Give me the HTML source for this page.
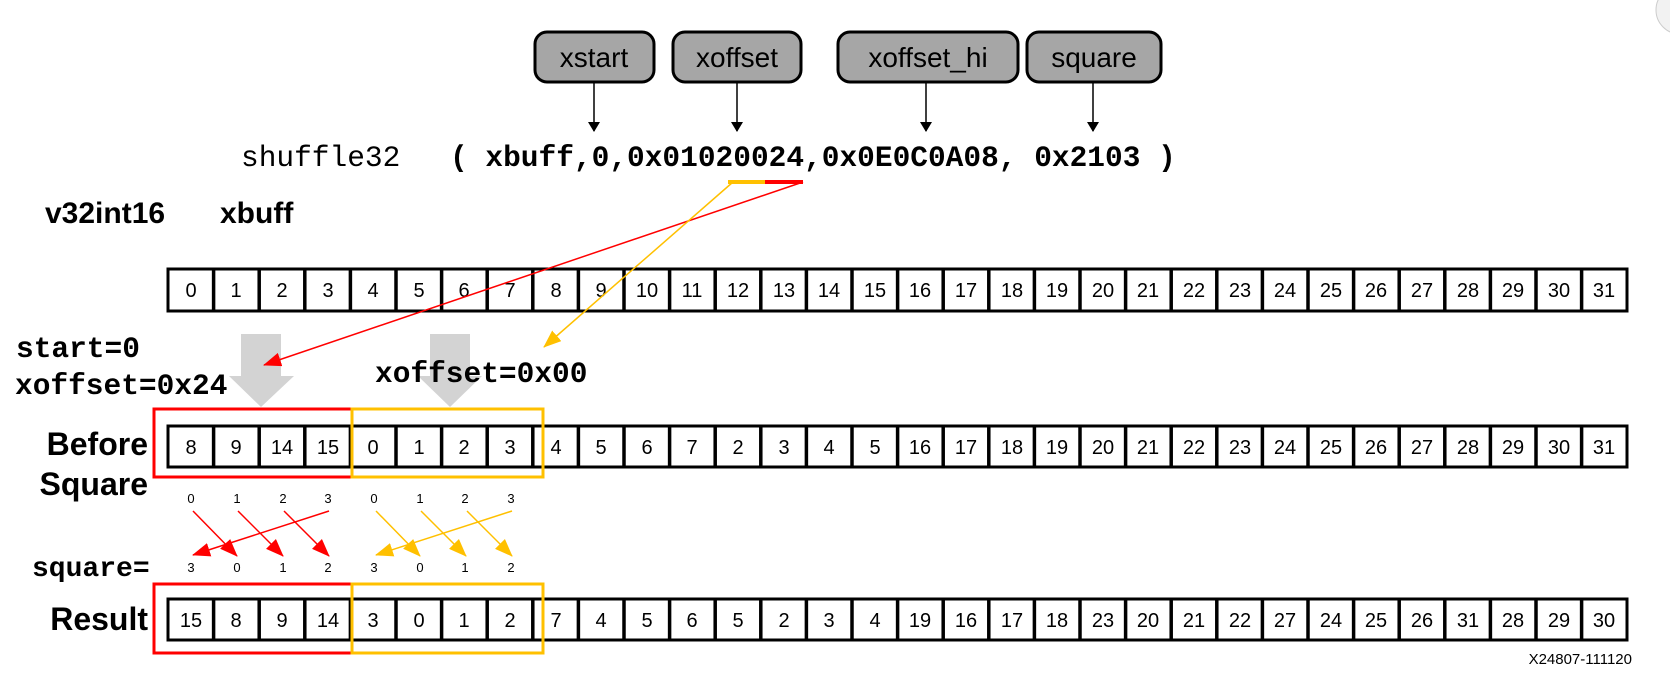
<!DOCTYPE html>
<html><head><meta charset="utf-8"><style>
html,body{margin:0;padding:0;background:#fff;width:1670px;height:679px;overflow:hidden}
svg{display:block}
.c{font-family:"Liberation Sans",sans-serif;font-size:20px;text-anchor:middle}
.s{font-family:"Liberation Sans",sans-serif;font-size:13px;text-anchor:middle}
.m{font-family:"Liberation Mono",monospace;font-size:29.5px;font-weight:bold}
.b{font-family:"Liberation Sans",sans-serif;font-weight:bold}
</style></head><body>
<svg width="1670" height="679" viewBox="0 0 1670 679" xmlns="http://www.w3.org/2000/svg">
<defs>
<marker id="ak" markerWidth="10" markerHeight="12" refX="9" refY="6" orient="auto" markerUnits="userSpaceOnUse"><path d="M0,0 L10,6 L0,12 z" fill="#000"/></marker>
<marker id="ar" markerWidth="18" markerHeight="14" refX="17" refY="7" orient="auto" markerUnits="userSpaceOnUse"><path d="M0,0 L18,7 L0,14 z" fill="#f00"/></marker>
<marker id="ay" markerWidth="18" markerHeight="14" refX="17" refY="7" orient="auto" markerUnits="userSpaceOnUse"><path d="M0,0 L18,7 L0,14 z" fill="#ffc000"/></marker>
</defs>

<circle cx="1680" cy="10" r="24" fill="#f2f2f2" stroke="#ccc"/>

<g font-family="Liberation Sans,sans-serif" font-size="28" text-anchor="middle" fill="#000">
<rect x="535" y="32" width="119" height="50" rx="12" fill="#a6a6a6" stroke="#000" stroke-width="3"/>
<text x="594" y="67">xstart</text>
<rect x="673" y="32" width="128" height="50" rx="12" fill="#a6a6a6" stroke="#000" stroke-width="3"/>
<text x="737" y="67">xoffset</text>
<rect x="838" y="32" width="180" height="50" rx="12" fill="#a6a6a6" stroke="#000" stroke-width="3"/>
<text x="928" y="67">xoffset_hi</text>
<rect x="1027" y="32" width="134" height="50" rx="12" fill="#a6a6a6" stroke="#000" stroke-width="3"/>
<text x="1094" y="67">square</text>
</g>
<g stroke="#000" stroke-width="1.5">
<line x1="594" y1="83" x2="594" y2="131" marker-end="url(#ak)"/>
<line x1="737" y1="83" x2="737" y2="131" marker-end="url(#ak)"/>
<line x1="926" y1="83" x2="926" y2="131" marker-end="url(#ak)"/>
<line x1="1093" y1="83" x2="1093" y2="131" marker-end="url(#ak)"/>
</g>

<text x="241" y="166" class="m" style="font-weight:normal">shuffle32</text>
<text x="450" y="166" class="m">( xbuff,0,0x01020024,0x0E0C0A08, 0x2103 )</text>

<text x="45" y="223" class="b" font-size="30">v32int16</text>
<text x="220" y="223" class="b" font-size="30">xbuff</text>

<!-- gray arrows (under text) -->
<path d="M241,334 H281 V376 H294 L261,407 L229,376 H241 Z" fill="#d3d3d3"/>
<path d="M430,334 H470 V376 H482 L450,407 L418,376 H430 Z" fill="#d3d3d3"/>

<text x="16" y="357" class="m">start=0</text>
<text x="15" y="394" class="m">xoffset=0x24</text>
<text x="375" y="382" class="m">xoffset=0x00</text>

<text x="148" y="455" class="b" font-size="32" text-anchor="end">Before</text>
<text x="148" y="495" class="b" font-size="32" text-anchor="end">Square</text>
<text x="148" y="630" class="b" font-size="32" text-anchor="end">Result</text>
<text x="32" y="576" class="m" style="font-size:28px">square=</text>

<g>
<text x="191" y="503" class="s">0</text><text x="237" y="503" class="s">1</text><text x="283" y="503" class="s">2</text><text x="328" y="503" class="s">3</text>
<text x="374" y="503" class="s">0</text><text x="420" y="503" class="s">1</text><text x="465" y="503" class="s">2</text><text x="511" y="503" class="s">3</text>
<text x="191" y="572" class="s">3</text><text x="237" y="572" class="s">0</text><text x="283" y="572" class="s">1</text><text x="328" y="572" class="s">2</text>
<text x="374" y="572" class="s">3</text><text x="420" y="572" class="s">0</text><text x="465" y="572" class="s">1</text><text x="511" y="572" class="s">2</text>
</g>
<g stroke="#f00" stroke-width="1.5">
<line x1="193" y1="511" x2="237" y2="556" marker-end="url(#ar)"/>
<line x1="238" y1="511" x2="283" y2="556" marker-end="url(#ar)"/>
<line x1="284" y1="511" x2="329" y2="556" marker-end="url(#ar)"/>
<line x1="329" y1="511" x2="193" y2="555" marker-end="url(#ar)"/>
</g>
<g stroke="#ffc000" stroke-width="1.5">
<line x1="376" y1="511" x2="420" y2="556" marker-end="url(#ay)"/>
<line x1="421" y1="511" x2="466" y2="556" marker-end="url(#ay)"/>
<line x1="467" y1="511" x2="512" y2="556" marker-end="url(#ay)"/>
<line x1="512" y1="511" x2="376" y2="555" marker-end="url(#ay)"/>
</g>

<text x="1632" y="664" font-family="Liberation Sans,sans-serif" font-size="15" text-anchor="end">X24807-111120</text>

<g fill="#fff" stroke="#000" stroke-width="3">
<rect x="168" y="269" width="1459" height="42"/>
<rect x="168" y="426" width="1459" height="41"/>
<rect x="168" y="599" width="1459" height="41"/>
</g>
<g stroke="#000" stroke-width="3.5">
<path d="M213.6,269V311M259.2,269V311M304.8,269V311M350.4,269V311M396,269V311M441.6,269V311M487.2,269V311M532.8,269V311M578.4,269V311M624,269V311M669.6,269V311M715.2,269V311M760.8,269V311M806.4,269V311M852,269V311M897.6,269V311M943.2,269V311M988.8,269V311M1034.4,269V311M1080,269V311M1125.6,269V311M1171.2,269V311M1216.8,269V311M1262.4,269V311M1308,269V311M1353.6,269V311M1399.2,269V311M1444.8,269V311M1490.4,269V311M1536,269V311M1581.6,269V311"/>
<path d="M213.6,426V467M259.2,426V467M304.8,426V467M350.4,426V467M396,426V467M441.6,426V467M487.2,426V467M532.8,426V467M578.4,426V467M624,426V467M669.6,426V467M715.2,426V467M760.8,426V467M806.4,426V467M852,426V467M897.6,426V467M943.2,426V467M988.8,426V467M1034.4,426V467M1080,426V467M1125.6,426V467M1171.2,426V467M1216.8,426V467M1262.4,426V467M1308,426V467M1353.6,426V467M1399.2,426V467M1444.8,426V467M1490.4,426V467M1536,426V467M1581.6,426V467"/>
<path d="M213.6,599V640M259.2,599V640M304.8,599V640M350.4,599V640M396,599V640M441.6,599V640M487.2,599V640M532.8,599V640M578.4,599V640M624,599V640M669.6,599V640M715.2,599V640M760.8,599V640M806.4,599V640M852,599V640M897.6,599V640M943.2,599V640M988.8,599V640M1034.4,599V640M1080,599V640M1125.6,599V640M1171.2,599V640M1216.8,599V640M1262.4,599V640M1308,599V640M1353.6,599V640M1399.2,599V640M1444.8,599V640M1490.4,599V640M1536,599V640M1581.6,599V640"/>
</g>
<g class="c">
<text x="191" y="297">0</text><text x="236" y="297">1</text><text x="282" y="297">2</text><text x="328" y="297">3</text><text x="373" y="297">4</text><text x="419" y="297">5</text><text x="464" y="297">6</text><text x="510" y="297">7</text><text x="556" y="297">8</text><text x="601" y="297">9</text><text x="647" y="297">10</text><text x="692" y="297">11</text><text x="738" y="297">12</text><text x="784" y="297">13</text><text x="829" y="297">14</text><text x="875" y="297">15</text><text x="920" y="297">16</text><text x="966" y="297">17</text><text x="1012" y="297">18</text><text x="1057" y="297">19</text><text x="1103" y="297">20</text><text x="1148" y="297">21</text><text x="1194" y="297">22</text><text x="1240" y="297">23</text><text x="1285" y="297">24</text><text x="1331" y="297">25</text><text x="1376" y="297">26</text><text x="1422" y="297">27</text><text x="1468" y="297">28</text><text x="1513" y="297">29</text><text x="1559" y="297">30</text><text x="1604" y="297">31</text>
<text x="191" y="454">8</text><text x="236" y="454">9</text><text x="282" y="454">14</text><text x="328" y="454">15</text><text x="373" y="454">0</text><text x="419" y="454">1</text><text x="464" y="454">2</text><text x="510" y="454">3</text><text x="556" y="454">4</text><text x="601" y="454">5</text><text x="647" y="454">6</text><text x="692" y="454">7</text><text x="738" y="454">2</text><text x="784" y="454">3</text><text x="829" y="454">4</text><text x="875" y="454">5</text><text x="920" y="454">16</text><text x="966" y="454">17</text><text x="1012" y="454">18</text><text x="1057" y="454">19</text><text x="1103" y="454">20</text><text x="1148" y="454">21</text><text x="1194" y="454">22</text><text x="1240" y="454">23</text><text x="1285" y="454">24</text><text x="1331" y="454">25</text><text x="1376" y="454">26</text><text x="1422" y="454">27</text><text x="1468" y="454">28</text><text x="1513" y="454">29</text><text x="1559" y="454">30</text><text x="1604" y="454">31</text>
<text x="191" y="627">15</text><text x="236" y="627">8</text><text x="282" y="627">9</text><text x="328" y="627">14</text><text x="373" y="627">3</text><text x="419" y="627">0</text><text x="464" y="627">1</text><text x="510" y="627">2</text><text x="556" y="627">7</text><text x="601" y="627">4</text><text x="647" y="627">5</text><text x="692" y="627">6</text><text x="738" y="627">5</text><text x="784" y="627">2</text><text x="829" y="627">3</text><text x="875" y="627">4</text><text x="920" y="627">19</text><text x="966" y="627">16</text><text x="1012" y="627">17</text><text x="1057" y="627">18</text><text x="1103" y="627">23</text><text x="1148" y="627">20</text><text x="1194" y="627">21</text><text x="1240" y="627">22</text><text x="1285" y="627">27</text><text x="1331" y="627">24</text><text x="1376" y="627">25</text><text x="1422" y="627">26</text><text x="1468" y="627">31</text><text x="1513" y="627">28</text><text x="1559" y="627">29</text><text x="1604" y="627">30</text>
</g>
<rect x="154" y="409" width="198" height="68" fill="none" stroke="#f00" stroke-width="3"/>
<rect x="352" y="409" width="191" height="68" fill="none" stroke="#ffc000" stroke-width="3"/>
<rect x="154" y="584" width="198" height="69" fill="none" stroke="#f00" stroke-width="3"/>
<rect x="352" y="584" width="191" height="69" fill="none" stroke="#ffc000" stroke-width="3"/>
<line x1="728" y1="182" x2="765" y2="182" stroke="#ffc000" stroke-width="4"/>
<line x1="765" y1="182" x2="803" y2="182" stroke="#f00" stroke-width="4"/>
<line x1="803" y1="182" x2="264" y2="365" stroke="#f00" stroke-width="1.5" marker-end="url(#ar)"/>
<line x1="733" y1="182" x2="544" y2="347" stroke="#ffc000" stroke-width="1.5" marker-end="url(#ay)"/>
</svg>
</body></html>
